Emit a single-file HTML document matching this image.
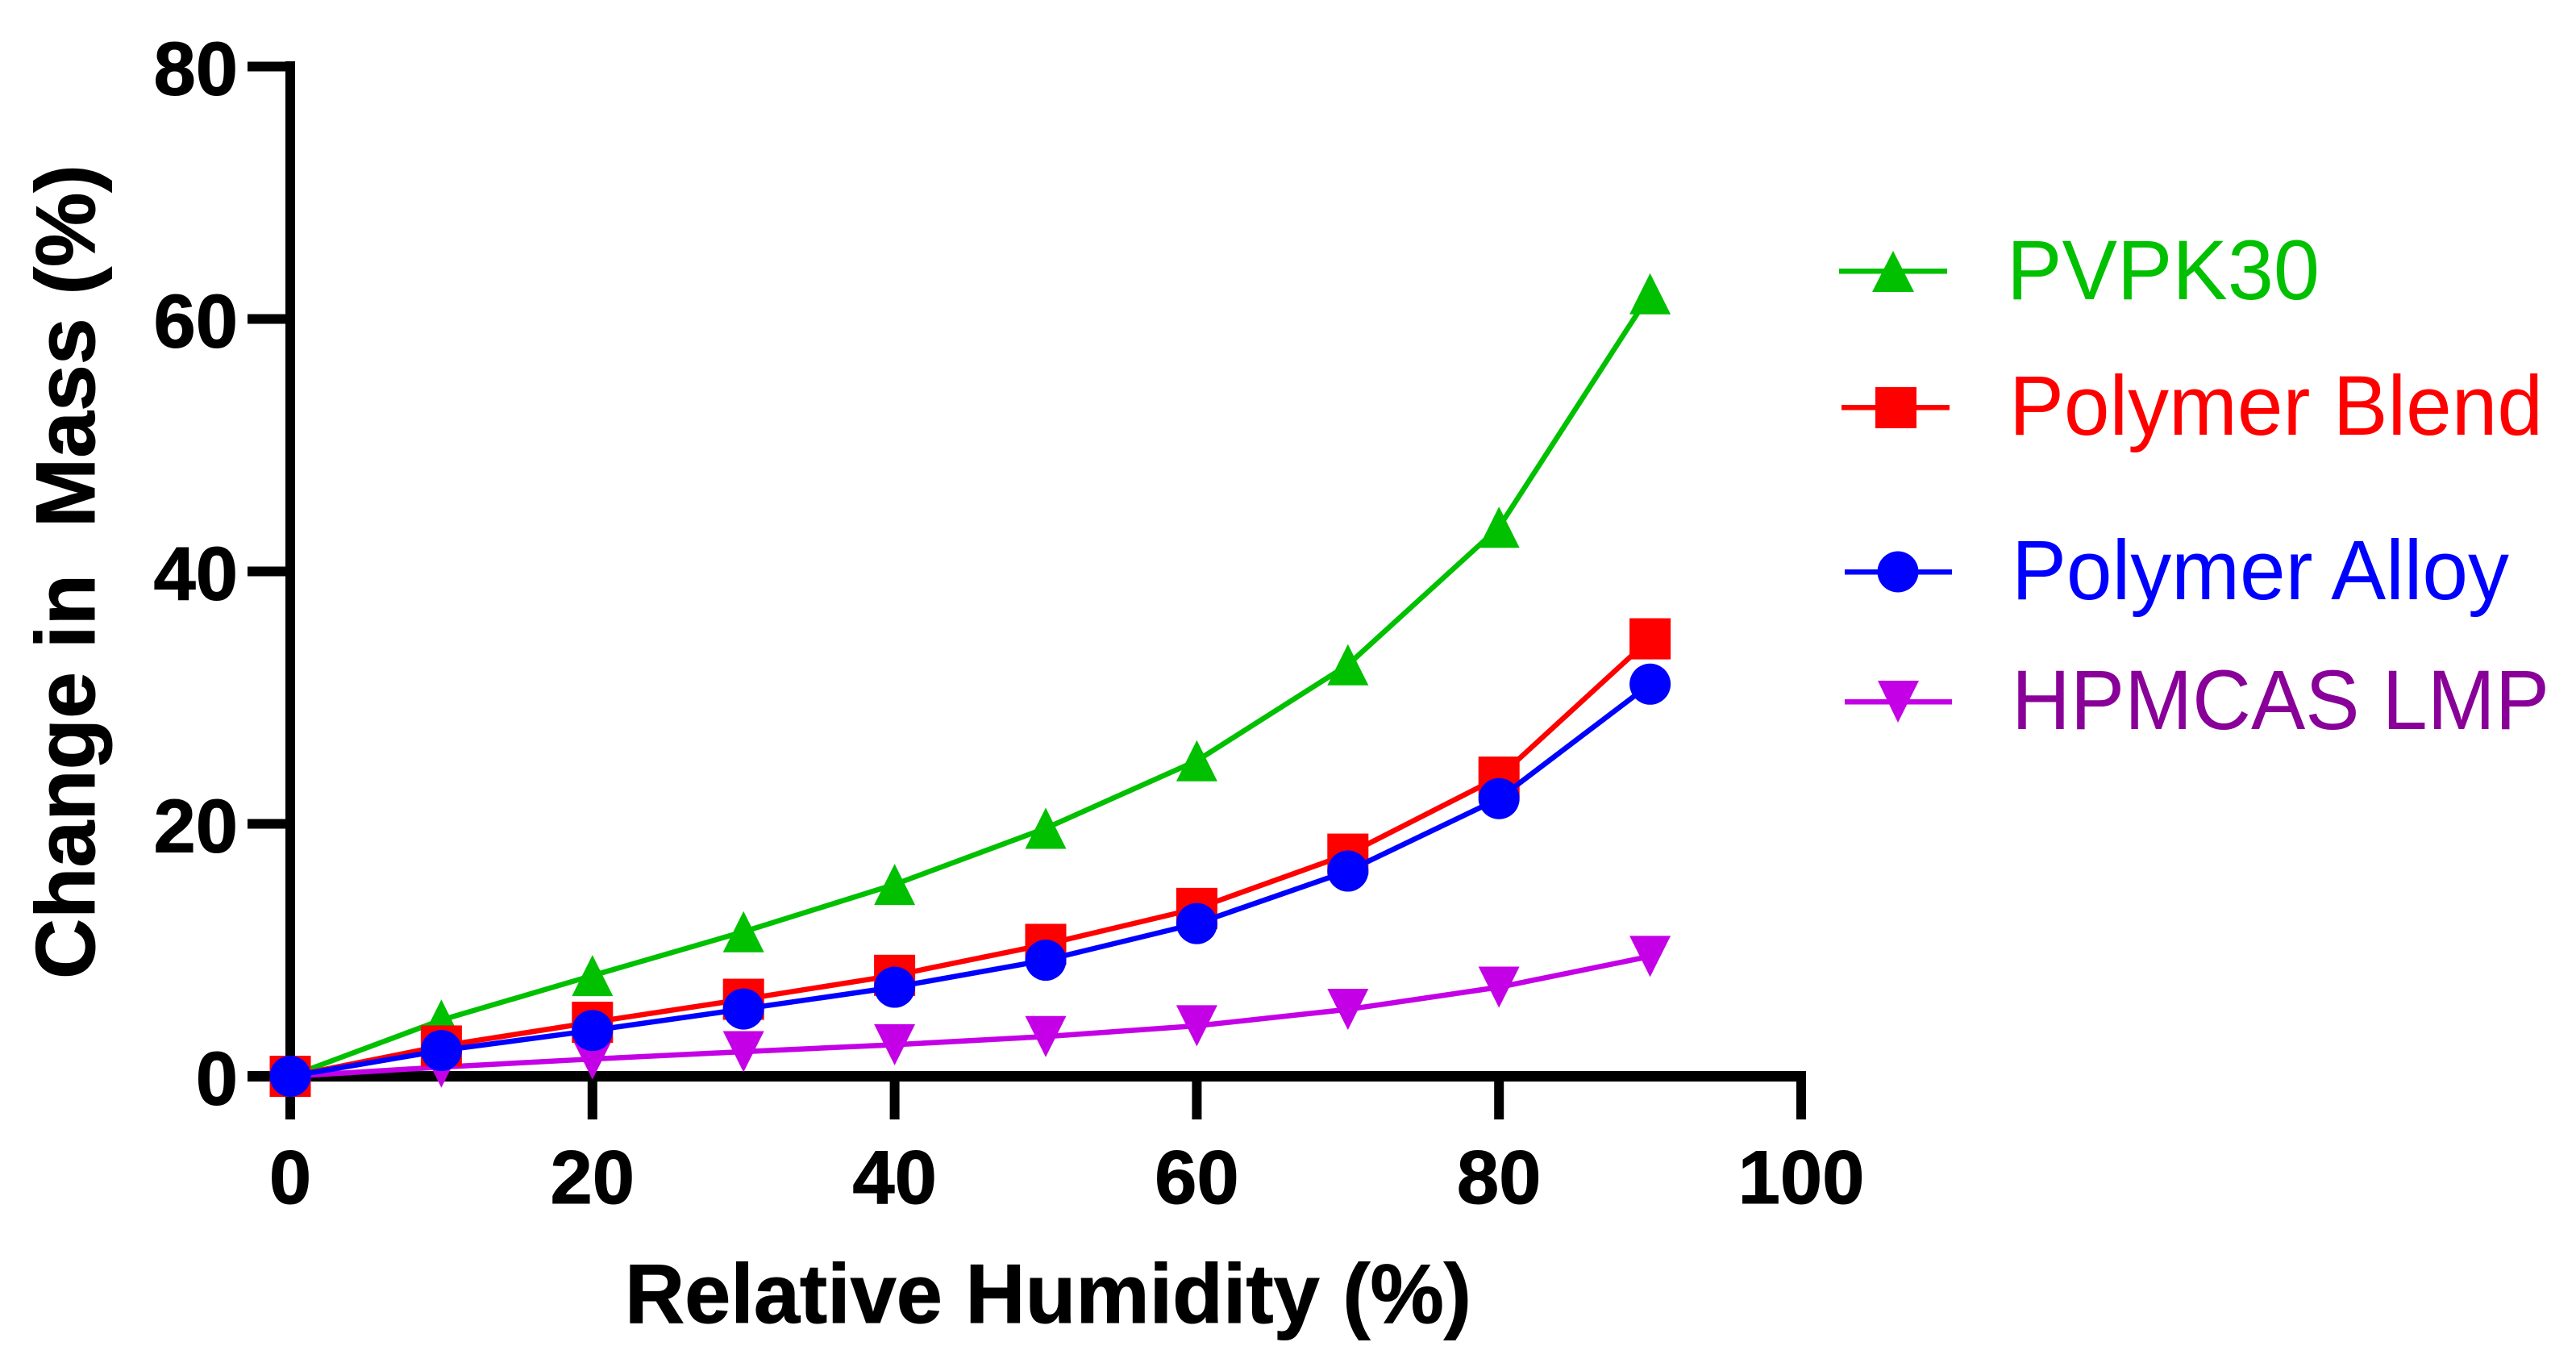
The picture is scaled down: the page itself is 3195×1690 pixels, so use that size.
<!DOCTYPE html>
<html>
<head>
<meta charset="utf-8">
<title>Change in Mass vs Relative Humidity</title>
<style>
html,body{margin:0;padding:0;background:#fff;}
svg{display:block;}
text{font-family:"Liberation Sans",Arial,sans-serif;white-space:pre;}
.tick{font-weight:bold;font-size:94px;fill:#000;stroke:#000;stroke-width:1px;}
.title{font-weight:bold;font-size:104px;fill:#000;stroke:#000;stroke-width:1px;}
.leg{font-size:105px;}
</style>
</head>
<body>
<svg id="chart" xmlns="http://www.w3.org/2000/svg" width="3195" height="1690" viewBox="0 0 3195 1690">
  <rect x="0" y="0" width="3195" height="1690" fill="#ffffff"/>
  <g id="axes"></g>
  <g id="series"></g>
  <text class="title" x="775" y="1640" textLength="1050" lengthAdjust="spacingAndGlyphs">Relative Humidity (%)</text>
  <text class="title" transform="translate(117,1214) rotate(-90)" x="0" y="0" textLength="1010" lengthAdjust="spacingAndGlyphs" xml:space="preserve">Change in  Mass (%)</text>
  <g>
    <g>
      <rect x="2281" y="333" width="134" height="6.5" fill="#00C000"/>
      <polygon points="2348,311 2374,362 2322,362" fill="#00C000"/>
      <text class="leg" x="2489" y="371" textLength="388" lengthAdjust="spacingAndGlyphs" fill="#00C000">PVPK30</text>
    </g>
    <g>
      <rect x="2284" y="502" width="134" height="6.5" fill="#FF0000"/>
      <rect x="2326" y="480" width="51" height="51" fill="#FF0000"/>
      <text class="leg" x="2492" y="539" textLength="662" lengthAdjust="spacingAndGlyphs" fill="#FF0000">Polymer Blend</text>
    </g>
    <g>
      <rect x="2288" y="706" width="133" height="6.5" fill="#0000FF"/>
      <circle cx="2354" cy="709" r="25.5" fill="#0000FF"/>
      <text class="leg" x="2495" y="743" textLength="617" lengthAdjust="spacingAndGlyphs" fill="#0000FF">Polymer Alloy</text>
    </g>
    <g>
      <rect x="2288" y="867" width="133" height="6.5" fill="#C400E6"/>
      <polygon points="2329,844 2380,844 2354,896" fill="#C400E6"/>
      <text class="leg" x="2495" y="904" textLength="667" lengthAdjust="spacingAndGlyphs" fill="#880098">HPMCAS LMP</text>
    </g>
  </g>
</svg>
<script>
var humidity = [0, 10, 20, 30, 40, 50, 60, 70, 80, 90];
var pvpk30 = [0, 4.46, 7.98, 11.45, 15.2, 19.65, 25.0, 32.6, 43.5, 62.0];
var polymerBlend = [0, 2.4, 4.28, 6.1, 8.0, 10.45, 13.3, 17.6, 23.7, 34.66];
var polymerAlloy = [0, 2.04, 3.63, 5.33, 7.06, 9.2, 12.1, 16.26, 22.0, 31.07];
var hpmcasLmp = [0, 0.73, 1.37, 1.95, 2.5, 3.15, 4.0, 5.3, 7.06, 9.5];
var xTickLabels = [0, 20, 40, 60, 80, 100];
var yTickLabels = [0, 20, 40, 60, 80];

var NS = 'http://www.w3.org/2000/svg';
var axesGroup = document.getElementById('axes');
var seriesGroup = document.getElementById('series');

function xScale(v) { return 360 + v * 18.74; }
function yScale(v) { return 1334.5 - v * 15.65; }

function make(tag, attrs, parent) {
  var el = document.createElementNS(NS, tag);
  for (var k in attrs) { el.setAttribute(k, attrs[k]); }
  parent.appendChild(el);
  return el;
}

function drawAxes() {
  var yLine = make('rect', { x: 354, y: 76, width: 12, height: 1264.5, fill: '#000' }, axesGroup);
  
  
  var xLine = make('rect', { x: 307, y: 1328, width: 1933, height: 13, fill: '#000' }, axesGroup);
  
  

  yTickLabels.forEach(function (t) {
    var y = yScale(t);
    var mark = make('rect', { x: 307, y: y - 6, width: 50, height: 12, fill: '#000' }, axesGroup);
    
    
    var label = make('text', { x: 295, y: y + 35, 'text-anchor': 'end', 'class': 'tick' }, axesGroup);
    
    
    label.textContent = String(t);
  });

  xTickLabels.forEach(function (t) {
    var x = xScale(t);
    var mark = make('rect', { x: x - 6, y: 1335, width: 12, height: 53, fill: '#000' }, axesGroup);
    
    
    var label = make('text', { x: x, y: 1492, 'text-anchor': 'middle', 'class': 'tick' }, axesGroup);
    
    
    label.textContent = String(t);
  });
}

function drawMarker(kind, cx, cy, color, parent) {
  var r = 25.5;
  if (kind === 'circle') {
    return make('circle', { cx: cx, cy: cy, r: r, fill: color }, parent);
  }
  if (kind === 'square') {
    return make('rect', { x: cx - r, y: cy - r, width: 2 * r, height: 2 * r, fill: color }, parent);
  }
  var pts;
  if (kind === 'up') {
    pts = [cx, cy - r, cx + r, cy + r, cx - r, cy + r];
  } else {
    pts = [cx - r, cy - r, cx + r, cy - r, cx, cy + r];
  }
  return make('polygon', { points: pts.join(' '), fill: color }, parent);
}

function drawSeries(name, values, color, kind) {
  var g = make('g', {}, seriesGroup);
  
  
  var pts = values.map(function (v, i) { return xScale(humidity[i]) + ',' + yScale(v); }).join(' ');
  var line = make('polyline', { points: pts, fill: 'none', stroke: color, 'stroke-width': 6.5, 'stroke-linejoin': 'round' }, g);
  
  
  values.forEach(function (v, i) {
    var m = drawMarker(kind, xScale(humidity[i]), yScale(v), color, g);
    
    
  });
}

drawAxes();
drawSeries('hpmcas-lmp', hpmcasLmp, '#C400E6', 'down');
drawSeries('pvpk30', pvpk30, '#00C000', 'up');
drawSeries('polymer-blend', polymerBlend, '#FF0000', 'square');
drawSeries('polymer-alloy', polymerAlloy, '#0000FF', 'circle');
</script>
</body>
</html>
